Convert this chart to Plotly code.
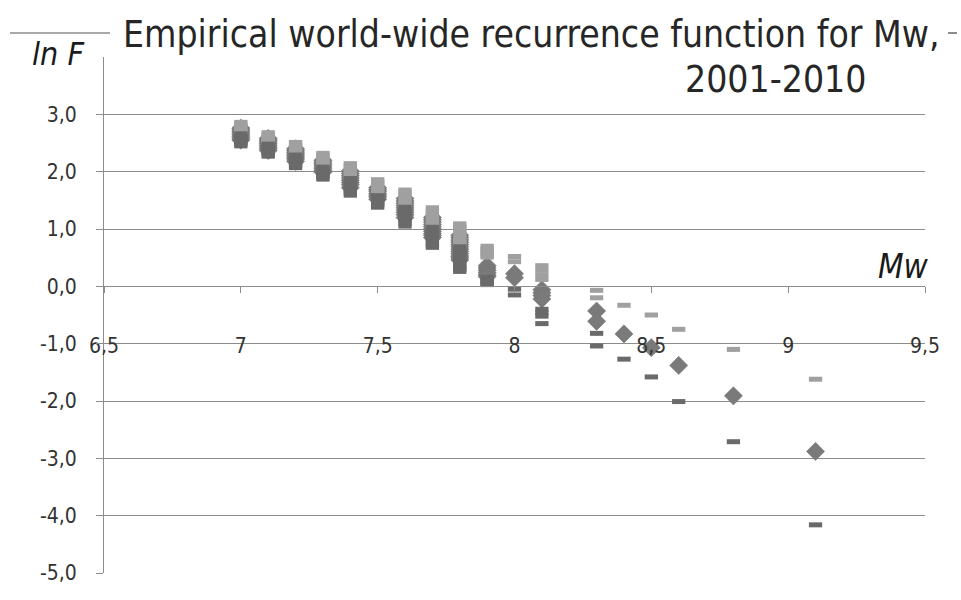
import plotly.graph_objects as go

# ---------------- data ----------------
mw_cols = [7.0, 7.1, 7.2, 7.3, 7.4, 7.5, 7.6, 7.7, 7.8, 7.9, 8.0, 8.1, 8.3, 8.4, 8.5, 8.6, 8.8, 9.1]

lnF_central = [
    [2.76, 2.73, 2.70, 2.67, 2.64, 2.61, 2.58, 2.55],
    [2.58, 2.55, 2.52, 2.49, 2.46, 2.43, 2.40, 2.37],
    [2.40, 2.37, 2.34, 2.31, 2.28, 2.25, 2.22, 2.18],
    [2.20, 2.17, 2.14, 2.11, 2.08, 2.05, 2.02, 1.99],
    [2.01, 1.97, 1.93, 1.89, 1.85, 1.81, 1.77, 1.72],
    [1.72, 1.69, 1.66, 1.62, 1.59, 1.56, 1.52],
    [1.53, 1.49, 1.45, 1.41, 1.37, 1.33, 1.29, 1.25, 1.20],
    [1.20, 1.16, 1.12, 1.08, 1.04, 1.00, 0.96, 0.92, 0.89, 0.85],
    [0.89, 0.85, 0.81, 0.77, 0.73, 0.69, 0.65, 0.61, 0.57, 0.53, 0.50, 0.46],
    [0.36, 0.32, 0.28, 0.24, 0.20, 0.17],
    [0.22, 0.15],
    [-0.06, -0.11, -0.16, -0.22],
    [-0.43, -0.61],
    [-0.83],
    [-1.07],
    [-1.38],
    [-1.91],
    [-2.88],
]

lnF_upper = [
    [2.86, 2.83, 2.80, 2.77, 2.74, 2.71, 2.68, 2.65],
    [2.68, 2.65, 2.62, 2.59, 2.56, 2.53, 2.50, 2.47],
    [2.51, 2.48, 2.45, 2.42, 2.39, 2.36, 2.33, 2.29],
    [2.32, 2.29, 2.26, 2.23, 2.20, 2.17, 2.14, 2.11],
    [2.14, 2.10, 2.06, 2.02, 1.98, 1.94, 1.90, 1.85],
    [1.86, 1.83, 1.80, 1.76, 1.73, 1.70, 1.66],
    [1.68, 1.64, 1.60, 1.56, 1.52, 1.48, 1.44, 1.40, 1.35],
    [1.37, 1.33, 1.29, 1.25, 1.21, 1.17, 1.13, 1.09, 1.06, 1.02],
    [1.09, 1.05, 1.01, 0.97, 0.93, 0.89, 0.85, 0.81, 0.77, 0.73, 0.70, 0.66],
    [0.70, 0.66, 0.62, 0.58, 0.54, 0.51],
    [0.52, 0.43],
    [0.36, 0.28, 0.20, 0.12],
    [-0.07, -0.20],
    [-0.33],
    [-0.50],
    [-0.75],
    [-1.10],
    [-1.62],
]

lnF_lower = [
    [2.66, 2.63, 2.60, 2.57, 2.54, 2.51, 2.48, 2.45],
    [2.48, 2.45, 2.42, 2.39, 2.36, 2.33, 2.30, 2.27],
    [2.29, 2.26, 2.23, 2.20, 2.17, 2.14, 2.11, 2.07],
    [2.08, 2.05, 2.02, 1.99, 1.96, 1.93, 1.90, 1.87],
    [1.88, 1.84, 1.80, 1.76, 1.72, 1.68, 1.64, 1.59],
    [1.58, 1.55, 1.52, 1.48, 1.45, 1.42, 1.38],
    [1.38, 1.34, 1.30, 1.26, 1.22, 1.18, 1.14, 1.10, 1.05],
    [1.03, 0.99, 0.95, 0.91, 0.87, 0.83, 0.79, 0.75, 0.72, 0.68],
    [0.69, 0.65, 0.61, 0.57, 0.53, 0.49, 0.45, 0.41, 0.37, 0.33, 0.30, 0.26],
    [0.16, 0.13, 0.10, 0.07, 0.05, 0.03],
    [-0.05, -0.15],
    [-0.40, -0.46, -0.52, -0.65],
    [-0.82, -1.04],
    [-1.27],
    [-1.58],
    [-2.01],
    [-2.71],
    [-4.16],
]

x_tick_vals = [6.5, 7.0, 7.5, 8.0, 8.5, 9.0, 9.5]
x_tick_text = ["6,5", "7", "7,5", "8", "8,5", "9", "9,5"]
y_tick_vals = [3, 2, 1, 0, -1, -2, -3, -4, -5]
y_tick_text = ["3,0", "2,0", "1,0", "0,0", "-1,0", "-2,0", "-3,0", "-4,0", "-5,0"]

title_line1 = "Empirical world-wide recurrence function for Mw,"
title_line2 = "2001-2010"
y_label = "ln F"
x_label = "Mw"


def flatten(cols, groups):
    xs, ys = [], []
    for x, g in zip(cols, groups):
        for v in g:
            xs.append(x)
            ys.append(v)
    return xs, ys


# ---------------- layout geometry ----------------
W, H = 961, 600
L, R, T, B = 104, 925, 57, 573


def px(xp):
    return (xp - L) / (R - L)


def py(yp):
    return (B - yp) / (B - T)


FONT = "DejaVu Sans Condensed, DejaVu Sans, sans-serif"

fig = go.Figure()

xc, yc = flatten(mw_cols, lnF_central)
xu, yu = flatten(mw_cols, lnF_upper)
xl, yl = flatten(mw_cols, lnF_lower)

fig.add_trace(go.Scatter(
    x=xc, y=yc, mode="markers", name="ln F",
    marker=dict(symbol="diamond", size=14, color="#7a7a7a",
                line=dict(width=0.5, color="#727272")),
))
fig.add_trace(go.Scatter(
    x=xu, y=yu, mode="markers", name="upper",
    marker=dict(symbol="line-ew", size=9.5, color="#a0a0a0",
                line=dict(width=5, color="#a0a0a0")),
))
fig.add_trace(go.Scatter(
    x=xl, y=yl, mode="markers", name="lower",
    marker=dict(symbol="line-ew", size=9.5, color="#6a6a6a",
                line=dict(width=5, color="#6a6a6a")),
))

fig.update_layout(
    width=W, height=H,
    margin=dict(l=L, r=W - R, t=T, b=H - B),
    paper_bgcolor="white", plot_bgcolor="white",
    showlegend=False,
    font=dict(family=FONT, color="#333333"),
    xaxis=dict(
        range=[6.5, 9.5], tickmode="array", tickvals=x_tick_vals, ticktext=x_tick_text,
        anchor="free", position=5 / 9, showgrid=False, zeroline=False,
        showline=True, linecolor="#8c8c8c", linewidth=1,
        ticks="outside", ticklen=6, tickcolor="#8c8c8c",
        tickfont=dict(size=21, color="#333333"), ticklabelstandoff=34,
    ),
    yaxis=dict(
        range=[-5, 4], tickmode="array", tickvals=y_tick_vals, ticktext=y_tick_text,
        showgrid=True, gridcolor="#8c8c8c", gridwidth=1, zeroline=False,
        showline=True, linecolor="#8c8c8c", linewidth=1,
        ticks="outside", ticklen=7, tickcolor="#8c8c8c",
        tickfont=dict(size=21, color="#333333"), ticklabelstandoff=15,
    ),
)

fig.add_annotation(text=title_line1, xref="paper", yref="paper", x=px(531), y=py(35),
                   showarrow=False, xanchor="center", yanchor="middle",
                   font=dict(family=FONT, size=37, color="#262626"))
fig.add_annotation(text=title_line2, xref="paper", yref="paper", x=px(775), y=py(80),
                   showarrow=False, xanchor="center", yanchor="middle",
                   font=dict(family=FONT, size=37, color="#262626"))
fig.add_annotation(text="<i>" + y_label + "</i>", xref="paper", yref="paper", x=px(58), y=py(54),
                   showarrow=False, xanchor="center", yanchor="middle",
                   font=dict(family=FONT, size=32, color="#1a1a1a"))
fig.add_annotation(text="<i>" + x_label + "</i>", xref="paper", yref="paper", x=px(903), y=py(266),
                   showarrow=False, xanchor="center", yanchor="middle",
                   font=dict(family=FONT, size=33, color="#1a1a1a"))

# thin rule behind the title (visible only at both ends)
fig.add_shape(type="line", xref="paper", yref="paper", x0=px(10), x1=px(110), y0=py(33), y1=py(33),
              line=dict(color="#8c8c8c", width=1.5))
fig.add_shape(type="line", xref="paper", yref="paper", x0=px(948), x1=px(957), y0=py(33), y1=py(33),
              line=dict(color="#666666", width=1.5))

fig.write_html("out.html", config={"displayModeBar": False},
               post_script="document.body.style.margin='0';document.body.style.overflow='hidden';")
